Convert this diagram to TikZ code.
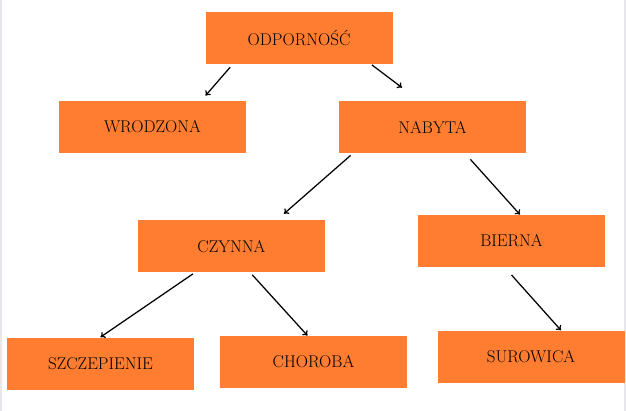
\documentclass[tikz,border=0pt]{standalone}
\usetikzlibrary{arrows.meta}
\definecolor{boxorange}{RGB}{255,125,48}
\definecolor{edgegray}{RGB}{230,230,236}
\tikzset{every picture/.style={line width=0.75pt}}
\tikzset{
    box/.style={fill=boxorange,minimum width=187pt,minimum height=52pt,inner sep=0pt,
        font=\fontsize{17}{20}\selectfont},
    arr/.style={-{To[length=4.5pt,width=7pt]},line width=1.25pt}
}

\begin{document}
\begin{tikzpicture}[x=1pt,y=-1pt]
        \useasboundingbox (0,0) rectangle (626,411);
        \fill[white] (0,0) rectangle (626,411);
        \fill[edgegray] (0,0) rectangle (2,411);
        \fill[edgegray] (624,0) rectangle (626,411);
        \node[box] (odp) at (299,38.5) {ODPORNOŚĆ};
        \node[box] (wro) at (152.5,127) {WRODZONA};
        \node[box] (nab) at (432.5,127) {NABYTA};
        \node[box] (czy) at (231.5,246.5) {CZYNNA};
        \node[box] (bie) at (511.5,241) {BIERNA};
        \node[box] (szc) at (100.5,363.5) {SZCZEPIENIE};
        \node[box] (cho) at (313.5,362) {CHOROBA};
        \node[box] (sur) at (531,356.7) {SUROWICA};
        % arrows stop short of the boxes
        \draw[arr] ([xshift=25pt,yshift=-2.4pt]odp.south west) -- ([xshift=53pt,yshift=5pt]wro.north);
        \draw[arr] ([xshift=-21pt]odp.south east) -- ([xshift=-30.5pt,yshift=13pt]nab.north);
        \draw[arr] ([xshift=12pt,yshift=-2pt]nab.south west) -- ([xshift=52.5pt,yshift=6.4pt]czy.north);
        \draw[arr] ([xshift=-56pt,yshift=-6pt]nab.south east) -- ([xshift=8.5pt]bie.north);
        \draw[arr] ([xshift=55.3pt,yshift=-1pt]czy.south west) -- (szc.north);
        \draw[arr] ([xshift=20.8pt,yshift=-2pt]czy.south) -- ([xshift=-6pt]cho.north);
        \draw[arr] ([yshift=-7.6pt]bie.south) -- ([xshift=30pt]sur.north);
    \end{tikzpicture}
\end{document}
